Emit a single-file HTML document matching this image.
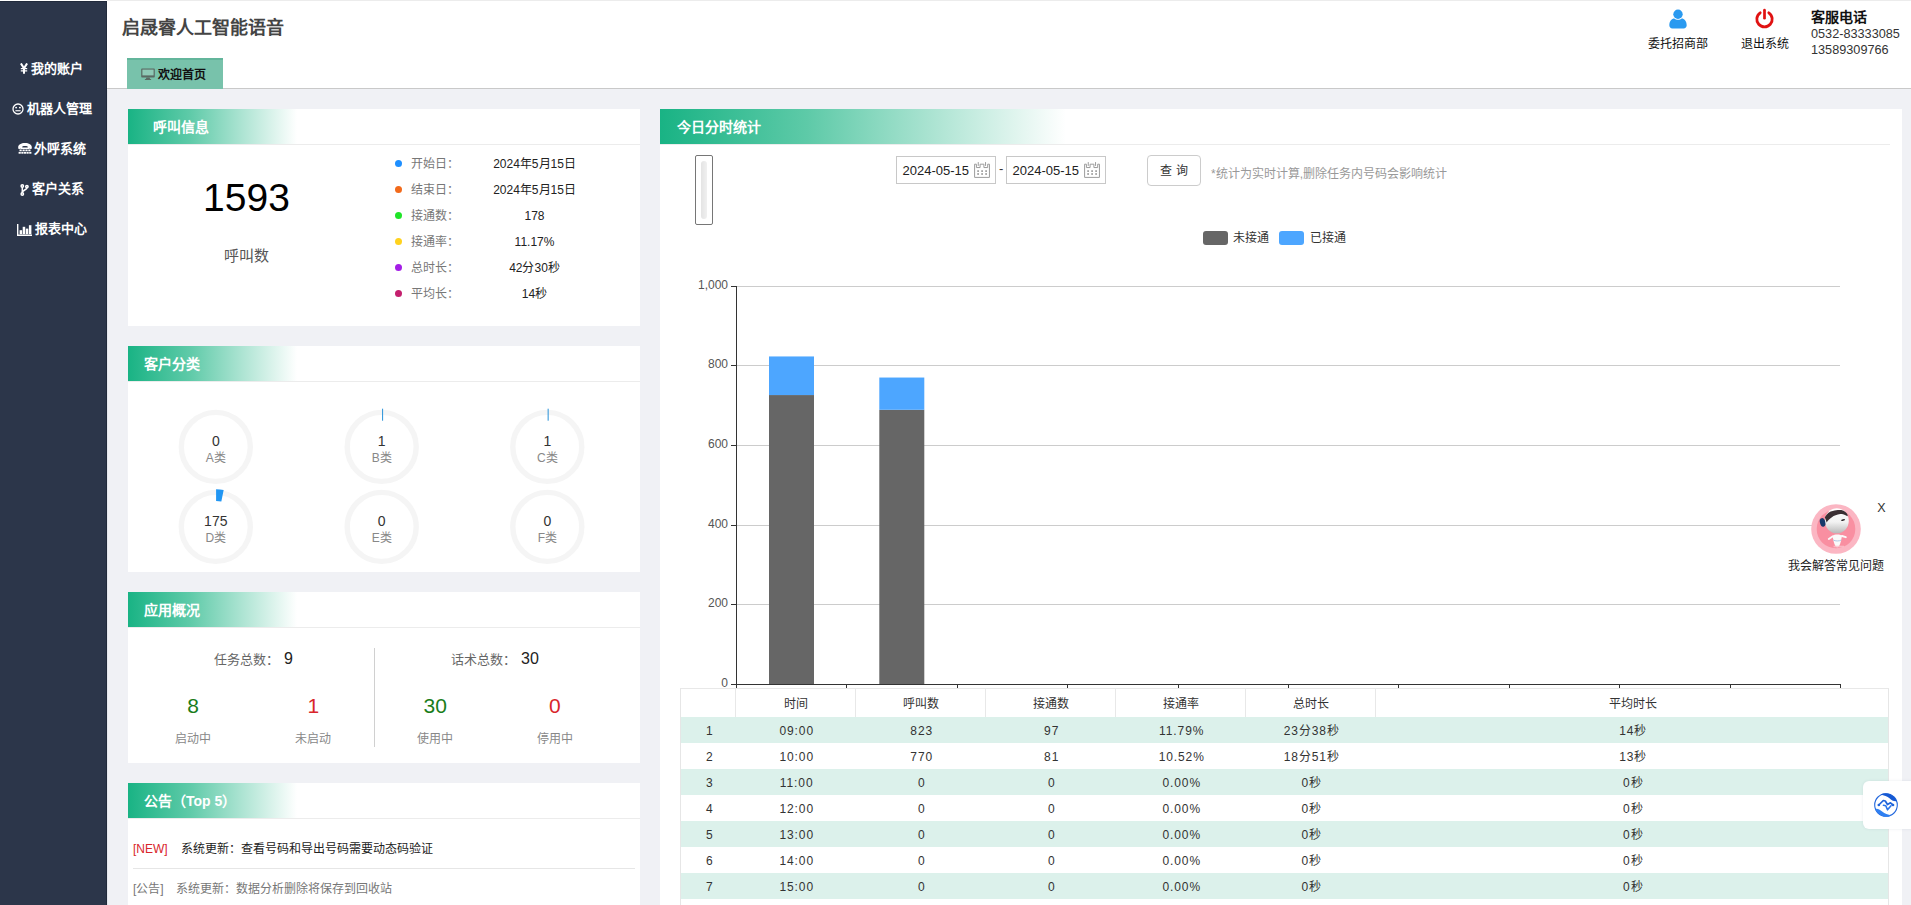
<!DOCTYPE html>
<html lang="zh-CN">
<head>
<meta charset="utf-8">
<title>启晟睿人工智能语音</title>
<style>
*{box-sizing:border-box;margin:0;padding:0}
html,body{width:1911px;height:905px;overflow:hidden;background:#f0f1f5;font-family:"Liberation Sans",sans-serif;font-size:12px;color:#333}
#page{position:absolute;left:0;top:0;width:1911px;height:905px;overflow:hidden;background:#f0f1f5}
.abs{position:absolute}
#side{position:absolute;left:0;top:1px;width:107px;height:904px;background:#2c364a;border-top:1px solid #212a3b;border-right:1px solid #212a3b;box-shadow:0 -1px 0 #fff}
#side .it{position:absolute;left:0;width:103.5px;height:20px;line-height:20px;text-align:center;color:#fff;font-weight:bold;font-size:13px;white-space:nowrap}
#side .it svg{vertical-align:-2px;margin-right:3px}
#top{position:absolute;left:107px;top:0;width:1804px;height:89px;background:#fff;border-bottom:1px solid #c9c9c9;border-top:1px solid #ececec}
#title{position:absolute;left:15px;top:14px;font-size:18px;font-weight:bold;color:#444;line-height:26px;white-space:nowrap}
#tab{position:absolute;left:20px;top:57px;width:96px;height:31px;background:#78c2ab;border-top:2px solid #63b59b;font-size:12px;font-weight:bold;color:#111;line-height:31px;white-space:nowrap}
.panel{position:absolute;background:#fff}
.ph{position:absolute;left:0;top:0;height:36px;border-bottom:1px solid #ececec;background:linear-gradient(to right,#19b384 0%,#5ecaa8 12%,#fff 33%);color:#fff;font-weight:bold;font-size:14px;line-height:37px;white-space:nowrap}
.t{position:absolute;white-space:nowrap;line-height:16px}
.c{transform:translateX(-50%)}
.td{color:#333;font-size:12px;letter-spacing:0.9px;margin-left:1.7px;margin-top:1px}
</style>
</head>
<body>
<div id="page">
<div id="side">
  <div class="it" style="top:57px"><svg width="8" height="11" viewBox="0 0 8 11" style="position:relative;top:-1px"><path d="M0.9 0.4L4 5.4L7.1 0.4M4 5V10.8" fill="none" stroke="#fff" stroke-width="2"/><path d="M0.8 5.6H7.2M0.8 7.9H7.2" stroke="#fff" stroke-width="1.2"/></svg>我的账户</div>
  <div class="it" style="top:97px"><svg width="12" height="12" viewBox="0 0 12 12"><circle cx="6" cy="6" r="5" fill="none" stroke="#fff" stroke-width="1.3"/><circle cx="4.1" cy="4.6" r="0.95" fill="#fff"/><circle cx="7.9" cy="4.6" r="0.95" fill="#fff"/><rect x="3.4" y="7.2" width="5.2" height="1.1" fill="#fff"/></svg>机器人管理</div>
  <div class="it" style="top:137px"><svg width="14" height="11" viewBox="0 0 14 11" style="position:relative;top:-1px;left:1px"><path d="M0.2 4.3C0.2 1.7 3 .1 7 .1S13.800 1.7 13.800 4.3V5.200C13.800 5.800 13.300 6.100 12.800 6L10.400 5.600C10 5.500 9.700 5.200 9.700 4.800V3.500C8.800 3.200 8 3.100 7 3.100S5.200 3.200 4.300 3.500V4.800C4.300 5.200 4 5.500 3.600 5.600L1.200 6C.7 6.100 .2 5.800 .2 5.200Z" fill="#fff"/><g fill="#fff"><rect x="2.900" y="4.500" width="8.200" height="1.500"/><rect x="1.500" y="6.500" width="2.200" height="1.700"/><rect x="4.500" y="6.500" width="2.200" height="1.700"/><rect x="7.400" y="6.500" width="2.200" height="1.700"/><rect x="10.300" y="6.500" width="2.200" height="1.700"/><rect x="0.600" y="8.900" width="2.200" height="1.800"/><rect x="3.300" y="8.900" width="2.200" height="1.800"/><rect x="5.900" y="8.900" width="2.200" height="1.800"/><rect x="8.500" y="8.900" width="2.200" height="1.800"/><rect x="11.200" y="8.900" width="2.200" height="1.800"/></g></svg>外呼系统</div>
  <div class="it" style="top:177px"><svg width="9" height="12" viewBox="0 0 9 12" style="position:relative;top:0.500px;left:0.500px"><g fill="none" stroke="#fff" stroke-width="1.500"><circle cx="2.300" cy="2" r="1.200"/><circle cx="2.300" cy="10" r="1.200"/><circle cx="6.900" cy="2.600" r="1.200"/><path d="M2.300 3.200V8.800"/><path d="M6.900 3.800C6.900 6.200 2.300 5.800 2.300 8.500" stroke-width="1.700"/></g></svg>客户关系</div>
  <div class="it" style="top:217px"><svg width="15" height="12" viewBox="0 0 15 12" style="position:relative;top:0.500px"><path d="M0.700 0V11.200H15" fill="none" stroke="#fff" stroke-width="1.400"/><g fill="#fff"><rect x="2.600" y="6.200" width="2.500" height="4"/><rect x="5.700" y="2.800" width="2.500" height="7.400"/><rect x="8.800" y="4.600" width="2.500" height="5.600"/><rect x="11.900" y="1.200" width="2.500" height="9"/></g></svg>报表中心</div>
</div>
<div id="top">
  
  <svg class="abs" style="left:1562px;top:7.6px" width="18" height="20" viewBox="0 0 18 20"><circle cx="9" cy="5.2" r="4.7" fill="#2a9af0"/><path d="M0.3 16.2C0.3 11.6 3 9.4 5.2 9.4C6.2 10.3 7.5 10.8 9 10.8S11.8 10.3 12.8 9.4C15 9.4 17.7 11.6 17.7 16.2C17.7 18.2 16.4 19.4 14.6 19.4H3.4C1.6 19.4 0.3 18.2 0.3 16.2Z" fill="#2a9af0"/></svg>
  <div class="t c" style="left:1571.2px;top:34.5px;color:#111">委托招商部</div>
  <svg class="abs" style="left:1646.9px;top:6.8px" width="21" height="22" viewBox="0 0 21 22"><path d="M6.2 4.8A7.7 7.7 0 1 0 14.8 4.8" fill="none" stroke="#e01212" stroke-width="2.8" stroke-linecap="round"/><path d="M10.5 2.2V10.2" stroke="#e01212" stroke-width="2.7" stroke-linecap="round"/></svg>
  <div class="t c" style="left:1658px;top:34.5px;color:#111">退出系统</div>
  <div class="t" style="left:1704px;top:6.7px;font-size:14px;font-weight:bold;color:#111;line-height:18px">客服电话</div>
  <div class="t" style="left:1704px;top:25px;font-size:12.7px;color:#333">0532-83333085</div>
  <div class="t" style="left:1704px;top:40.5px;font-size:12.7px;color:#333">13589309766</div>
  <div id="title">启晟睿人工智能语音</div>
  <div id="tab"><svg class="abs" style="left:14px;top:8px" width="14" height="13" viewBox="0 0 14 13"><path d="M1 0.5h12a0.8 0.8 0 0 1 .8.8v7.4a0.8 0.8 0 0 1-.8.8H1a0.8 0.8 0 0 1-.8-.8V1.3A0.8 0.8 0 0 1 1 .5Z" fill="#5a6a64"/><rect x="1.4" y="1.6" width="11.2" height="5.8" fill="#8fcab7"/><path d="M5.4 9.5h3.2l.5 1.6h1v1H3.9v-1h1z" fill="#5a6a64"/></svg><span style="margin-left:31px">欢迎首页</span></div>
</div>

<div class="abs" style="left:107px;top:90px;width:1px;height:815px;background:#e4e6ed"></div>
<!-- panel 1 -->
<div class="panel" style="left:128px;top:109px;width:512px;height:217px">
  <div class="ph" style="width:512px;padding-left:25px">呼叫信息</div>
  <div class="t c" style="left:118.5px;top:67px;font-size:39px;line-height:44px;color:#000">1593</div>
  <div class="t c" style="left:118px;top:137.7px;font-size:15px;line-height:18px;color:#555">呼叫数</div>
  <div class="abs" style="left:267px;top:51.0px;width:7px;height:7px;border-radius:50%;background:#1e8fff"></div><div class="t" style="left:283px;top:46.5px;color:#777">开始日：</div><div class="t c" style="left:406.5px;top:46.5px;color:#222">2024年5月15日</div>
  <div class="abs" style="left:267px;top:77.0px;width:7px;height:7px;border-radius:50%;background:#f26a1b"></div><div class="t" style="left:283px;top:72.5px;color:#777">结束日：</div><div class="t c" style="left:406.5px;top:72.5px;color:#222">2024年5月15日</div>
  <div class="abs" style="left:267px;top:103.0px;width:7px;height:7px;border-radius:50%;background:#1fe428"></div><div class="t" style="left:283px;top:98.5px;color:#777">接通数：</div><div class="t c" style="left:406.5px;top:98.5px;color:#222">178</div>
  <div class="abs" style="left:267px;top:129.0px;width:7px;height:7px;border-radius:50%;background:#ffd21e"></div><div class="t" style="left:283px;top:124.5px;color:#777">接通率：</div><div class="t c" style="left:406.5px;top:124.5px;color:#222">11.17%</div>
  <div class="abs" style="left:267px;top:155.0px;width:7px;height:7px;border-radius:50%;background:#a41ee6"></div><div class="t" style="left:283px;top:150.5px;color:#777">总时长：</div><div class="t c" style="left:406.5px;top:150.5px;color:#222">42分30秒</div>
  <div class="abs" style="left:267px;top:181.0px;width:7px;height:7px;border-radius:50%;background:#c41f6e"></div><div class="t" style="left:283px;top:176.5px;color:#777">平均长：</div><div class="t c" style="left:406.5px;top:176.5px;color:#222">14秒</div>
</div>
<!-- panel 2 -->
<div class="panel" style="left:128px;top:346px;width:512px;height:226px">
  <div class="ph" style="width:512px;padding-left:16px">客户分类</div>
  <svg class="abs" style="left:0;top:0" width="512" height="226" viewBox="128 346 512 226">
    <circle cx="215.8" cy="446.9" r="34.5" fill="none" stroke="#f5f5f5" stroke-width="5.4"/>
    <circle cx="381.7" cy="446.9" r="34.5" fill="none" stroke="#f5f5f5" stroke-width="5.4"/>
    <rect x="382.0" y="408.7" width="1.1" height="12" fill="#3a9bdc"/>
    <circle cx="547.3" cy="446.9" r="34.5" fill="none" stroke="#f5f5f5" stroke-width="5.4"/>
    <rect x="547.5999999999999" y="408.7" width="1.1" height="12" fill="#3a9bdc"/>
    <circle cx="215.8" cy="526.9" r="34.5" fill="none" stroke="#f5f5f5" stroke-width="5.4"/>
    <path d="M216.10 489.30 A37.6 37.6 0 0 1 223.66 490.07 L221.33 501.43 A26 26 0 0 0 216.10 500.90Z" fill="#2196f3"/>
    <circle cx="381.7" cy="526.9" r="34.5" fill="none" stroke="#f5f5f5" stroke-width="5.4"/>
    <circle cx="547.3" cy="526.9" r="34.5" fill="none" stroke="#f5f5f5" stroke-width="5.4"/>
  </svg>
  <div class="t c" style="left:87.80000000000001px;top:87.39999999999998px;font-size:14px;color:#333">0</div><div class="t c" style="left:87.80000000000001px;top:103.89999999999998px;color:#888">A类</div>
  <div class="t c" style="left:253.7px;top:87.39999999999998px;font-size:14px;color:#333">1</div><div class="t c" style="left:253.7px;top:103.89999999999998px;color:#888">B类</div>
  <div class="t c" style="left:419.29999999999995px;top:87.39999999999998px;font-size:14px;color:#333">1</div><div class="t c" style="left:419.29999999999995px;top:103.89999999999998px;color:#888">C类</div>
  <div class="t c" style="left:87.80000000000001px;top:167.39999999999998px;font-size:14px;color:#333">175</div><div class="t c" style="left:87.80000000000001px;top:183.89999999999998px;color:#888">D类</div>
  <div class="t c" style="left:253.7px;top:167.39999999999998px;font-size:14px;color:#333">0</div><div class="t c" style="left:253.7px;top:183.89999999999998px;color:#888">E类</div>
  <div class="t c" style="left:419.29999999999995px;top:167.39999999999998px;font-size:14px;color:#333">0</div><div class="t c" style="left:419.29999999999995px;top:183.89999999999998px;color:#888">F类</div>
</div>
<!-- panel 3 -->
<div class="panel" style="left:128px;top:592px;width:512px;height:171px">
  <div class="ph" style="width:512px;padding-left:16px">应用概况</div>
  <div class="t" style="left:85.5px;top:59px;font-size:13px;line-height:18px;color:#666">任务总数：</div>
  <div class="t" style="left:156px;top:58px;font-size:16px;line-height:18px;color:#222">9</div>
  <div class="t" style="left:322.5px;top:59px;font-size:13px;line-height:18px;color:#666">话术总数：</div>
  <div class="t" style="left:393px;top:58px;font-size:16px;line-height:18px;color:#222">30</div>
  <div class="t c" style="left:65.19999999999999px;top:101.70000000000005px;font-size:21px;line-height:24px;color:#1a7d1a">8</div><div class="t c" style="left:65.19999999999999px;top:138.5px;color:#888">启动中</div>
  <div class="t c" style="left:185.3px;top:101.70000000000005px;font-size:21px;line-height:24px;color:#d9252b">1</div><div class="t c" style="left:185.3px;top:138.5px;color:#888">未启动</div>
  <div class="t c" style="left:307.2px;top:101.70000000000005px;font-size:21px;line-height:24px;color:#1a7d1a">30</div><div class="t c" style="left:307.2px;top:138.5px;color:#888">使用中</div>
  <div class="t c" style="left:426.79999999999995px;top:101.70000000000005px;font-size:21px;line-height:24px;color:#d9252b">0</div><div class="t c" style="left:426.79999999999995px;top:138.5px;color:#888">停用中</div>
  <div class="abs" style="left:246px;top:56px;width:1px;height:99px;background:#d0d0d0"></div>
</div>
<!-- panel 4 -->
<div class="panel" style="left:128px;top:783px;width:512px;height:140px">
  <div class="ph" style="width:512px;padding-left:16px">公告（Top 5）</div>
  <div class="t" style="left:5px;top:57.5px;color:#d9252b">[NEW]</div><div class="t" style="left:52.5px;top:57.5px;color:#222">系统更新：查看号码和导出号码需要动态码验证</div>
  <div class="abs" style="left:5px;top:85px;width:502px;height:1px;background:#e6e6e6"></div>
  <div class="t" style="left:5px;top:97.5px;color:#777">[公告]</div><div class="t" style="left:48px;top:97.5px;color:#777">系统更新：数据分析删除将保存到回收站</div>
</div>
<!-- right panel -->
<div class="panel" id="rp" style="left:660px;top:109px;width:1242px;height:820px">
  <div class="ph" style="width:1230px;padding-left:17px">今日分时统计</div>
  <div class="abs" style="left:35px;top:46px;width:18px;height:70px;border:1px solid #767676;border-radius:2px;background:#fff"><div class="abs" style="left:5px;top:5px;width:6px;height:58px;border-radius:3px;background:linear-gradient(to right,#e4e4e4,#f0f0f0)"></div></div>
  <div class="abs" style="left:236px;top:47px;width:100px;height:28px;border:1px solid #c8c8c8;background:#fff"><div class="t" style="left:5.5px;top:5.5px;font-size:13px;color:#222">2024-05-15</div><svg class="abs" style="left:77px;top:5px" width="16" height="16" viewBox="0 0 16 16"><g fill="none" stroke="#9c9c9c" stroke-width="1"><path d="M0.6 2.2H2.4V5.55H6.1V2.2H9.9V5.55H13.7V2.2H15.45V15.4H0.6Z"/><path d="M4.25 0.1V3.9M11.55 0.1V3.9"/></g><g fill="#8e8e8e"><rect x="3.3" y="8.3" width="1.6" height="1.6"/><rect x="7.3" y="8.3" width="1.6" height="1.6"/><rect x="11.3" y="8.3" width="1.6" height="1.6"/><rect x="3.3" y="11.2" width="1.6" height="1.6"/><rect x="7.3" y="11.2" width="1.6" height="1.6"/><rect x="11.3" y="11.2" width="1.6" height="1.6"/></g></svg></div>
  <div class="abs" style="left:346px;top:47px;width:100px;height:28px;border:1px solid #c8c8c8;background:#fff"><div class="t" style="left:5.5px;top:5.5px;font-size:13px;color:#222">2024-05-15</div><svg class="abs" style="left:77px;top:5px" width="16" height="16" viewBox="0 0 16 16"><g fill="none" stroke="#9c9c9c" stroke-width="1"><path d="M0.6 2.2H2.4V5.55H6.1V2.2H9.9V5.55H13.7V2.2H15.45V15.4H0.6Z"/><path d="M4.25 0.1V3.9M11.55 0.1V3.9"/></g><g fill="#8e8e8e"><rect x="3.3" y="8.3" width="1.6" height="1.6"/><rect x="7.3" y="8.3" width="1.6" height="1.6"/><rect x="11.3" y="8.3" width="1.6" height="1.6"/><rect x="3.3" y="11.2" width="1.6" height="1.6"/><rect x="7.3" y="11.2" width="1.6" height="1.6"/><rect x="11.3" y="11.2" width="1.6" height="1.6"/></g></svg></div>
  <div class="t" style="left:339px;top:52px;font-size:13px;color:#333">-</div>
  <div class="abs" style="left:487px;top:46px;width:54px;height:31px;border:1px solid #ccc;border-radius:4px;background:#fff;text-align:center;line-height:30.5px;font-size:12px;color:#333;white-space:nowrap">查 询</div>
  <div class="t" style="left:551px;top:57px;color:#999">*统计为实时计算,删除任务内号码会影响统计</div>
  <div class="abs" style="left:543px;top:121.5px;width:25px;height:14px;border-radius:3px;background:#666"></div><div class="t" style="left:573px;top:120.8px;color:#333">未接通</div>
  <div class="abs" style="left:619px;top:121.5px;width:25px;height:14px;border-radius:3px;background:#4da6ff"></div><div class="t" style="left:649.5px;top:120.8px;color:#333">已接通</div>
  <svg class="abs" style="left:0;top:0" width="1242" height="600" viewBox="660 109 1242 600">
    <rect x="737" y="604" width="1103" height="1" fill="#cccccc"/>
    <rect x="737" y="525" width="1103" height="1" fill="#cccccc"/>
    <rect x="737" y="445" width="1103" height="1" fill="#cccccc"/>
    <rect x="737" y="365" width="1103" height="1" fill="#cccccc"/>
    <rect x="737" y="286" width="1103" height="1" fill="#cccccc"/>
    <rect x="731" y="684" width="5" height="1" fill="#333"/>
    <rect x="731" y="604" width="5" height="1" fill="#333"/>
    <rect x="731" y="525" width="5" height="1" fill="#333"/>
    <rect x="731" y="445" width="5" height="1" fill="#333"/>
    <rect x="731" y="365" width="5" height="1" fill="#333"/>
    <rect x="731" y="286" width="5" height="1" fill="#333"/>
    <rect x="769" y="395.05" width="45" height="288.95" fill="#666666"/>
    <rect x="769" y="356.45" width="45" height="38.61" fill="#4da6ff"/>
    <rect x="879.3" y="409.78" width="45" height="274.22" fill="#666666"/>
    <rect x="879.3" y="377.54" width="45" height="32.24" fill="#4da6ff"/>
    <rect x="736" y="286" width="1" height="399" fill="#333"/>
    <rect x="736" y="684" width="1105" height="1" fill="#333"/>
    <rect x="736" y="685" width="1" height="4" fill="#333"/>
    <rect x="846" y="685" width="1" height="4" fill="#333"/>
    <rect x="957" y="685" width="1" height="4" fill="#333"/>
    <rect x="1067" y="685" width="1" height="4" fill="#333"/>
    <rect x="1178" y="685" width="1" height="4" fill="#333"/>
    <rect x="1288" y="685" width="1" height="4" fill="#333"/>
    <rect x="1398" y="685" width="1" height="4" fill="#333"/>
    <rect x="1509" y="685" width="1" height="4" fill="#333"/>
    <rect x="1619" y="685" width="1" height="4" fill="#333"/>
    <rect x="1730" y="685" width="1" height="4" fill="#333"/>
    <rect x="1840" y="685" width="1" height="4" fill="#333"/>
  </svg>
  <div class="t" style="right:1174px;top:565.5px;color:#555;font-size:12px">0</div>
  <div class="t" style="right:1174px;top:485.5px;color:#555;font-size:12px">200</div>
  <div class="t" style="right:1174px;top:406.5px;color:#555;font-size:12px">400</div>
  <div class="t" style="right:1174px;top:326.5px;color:#555;font-size:12px">600</div>
  <div class="t" style="right:1174px;top:246.5px;color:#555;font-size:12px">800</div>
  <div class="t" style="right:1174px;top:167.5px;color:#555;font-size:12px">1,000</div>
  <div class="abs" style="left:20px;top:579px;width:1209px;height:240px;background:#fff;border-top:1px solid #e8e8e8;border-left:1px solid #e6e6e6;border-right:1px solid #e6e6e6"></div>
  <div class="abs" style="left:75px;top:580px;width:1px;height:28px;background:#e8e8e8"></div><div class="t c" style="left:136.2px;top:586.7px;color:#333">时间</div>
  <div class="abs" style="left:195px;top:580px;width:1px;height:28px;background:#e8e8e8"></div><div class="t c" style="left:261.2px;top:586.7px;color:#333">呼叫数</div>
  <div class="abs" style="left:325px;top:580px;width:1px;height:28px;background:#e8e8e8"></div><div class="t c" style="left:391.2px;top:586.7px;color:#333">接通数</div>
  <div class="abs" style="left:455px;top:580px;width:1px;height:28px;background:#e8e8e8"></div><div class="t c" style="left:521.2px;top:586.7px;color:#333">接通率</div>
  <div class="abs" style="left:585px;top:580px;width:1px;height:28px;background:#e8e8e8"></div><div class="t c" style="left:651.2px;top:586.7px;color:#333">总时长</div>
  <div class="abs" style="left:715px;top:580px;width:1px;height:28px;background:#e8e8e8"></div><div class="t c" style="left:972.7px;top:586.7px;color:#333">平均时长</div>
  <div class="abs tr" style="left:21px;top:608px;width:1207px;height:26px;background:#dcf1eb"><div class="t c td" style="left:27.0px;top:5px">1</div><div class="t c td" style="left:114.0px;top:5px">09:00</div><div class="t c td" style="left:239.0px;top:5px">823</div><div class="t c td" style="left:369.0px;top:5px">97</div><div class="t c td" style="left:499.0px;top:5px">11.79%</div><div class="t c td" style="left:629.0px;top:5px">23分38秒</div><div class="t c td" style="left:950.5px;top:5px">14秒</div></div>
  <div class="abs tr" style="left:21px;top:634px;width:1207px;height:26px;background:#fff"><div class="t c td" style="left:27.0px;top:5px">2</div><div class="t c td" style="left:114.0px;top:5px">10:00</div><div class="t c td" style="left:239.0px;top:5px">770</div><div class="t c td" style="left:369.0px;top:5px">81</div><div class="t c td" style="left:499.0px;top:5px">10.52%</div><div class="t c td" style="left:629.0px;top:5px">18分51秒</div><div class="t c td" style="left:950.5px;top:5px">13秒</div></div>
  <div class="abs tr" style="left:21px;top:660px;width:1207px;height:26px;background:#dcf1eb"><div class="t c td" style="left:27.0px;top:5px">3</div><div class="t c td" style="left:114.0px;top:5px">11:00</div><div class="t c td" style="left:239.0px;top:5px">0</div><div class="t c td" style="left:369.0px;top:5px">0</div><div class="t c td" style="left:499.0px;top:5px">0.00%</div><div class="t c td" style="left:629.0px;top:5px">0秒</div><div class="t c td" style="left:950.5px;top:5px">0秒</div></div>
  <div class="abs tr" style="left:21px;top:686px;width:1207px;height:26px;background:#fff"><div class="t c td" style="left:27.0px;top:5px">4</div><div class="t c td" style="left:114.0px;top:5px">12:00</div><div class="t c td" style="left:239.0px;top:5px">0</div><div class="t c td" style="left:369.0px;top:5px">0</div><div class="t c td" style="left:499.0px;top:5px">0.00%</div><div class="t c td" style="left:629.0px;top:5px">0秒</div><div class="t c td" style="left:950.5px;top:5px">0秒</div></div>
  <div class="abs tr" style="left:21px;top:712px;width:1207px;height:26px;background:#dcf1eb"><div class="t c td" style="left:27.0px;top:5px">5</div><div class="t c td" style="left:114.0px;top:5px">13:00</div><div class="t c td" style="left:239.0px;top:5px">0</div><div class="t c td" style="left:369.0px;top:5px">0</div><div class="t c td" style="left:499.0px;top:5px">0.00%</div><div class="t c td" style="left:629.0px;top:5px">0秒</div><div class="t c td" style="left:950.5px;top:5px">0秒</div></div>
  <div class="abs tr" style="left:21px;top:738px;width:1207px;height:26px;background:#fff"><div class="t c td" style="left:27.0px;top:5px">6</div><div class="t c td" style="left:114.0px;top:5px">14:00</div><div class="t c td" style="left:239.0px;top:5px">0</div><div class="t c td" style="left:369.0px;top:5px">0</div><div class="t c td" style="left:499.0px;top:5px">0.00%</div><div class="t c td" style="left:629.0px;top:5px">0秒</div><div class="t c td" style="left:950.5px;top:5px">0秒</div></div>
  <div class="abs tr" style="left:21px;top:764px;width:1207px;height:26px;background:#dcf1eb"><div class="t c td" style="left:27.0px;top:5px">7</div><div class="t c td" style="left:114.0px;top:5px">15:00</div><div class="t c td" style="left:239.0px;top:5px">0</div><div class="t c td" style="left:369.0px;top:5px">0</div><div class="t c td" style="left:499.0px;top:5px">0.00%</div><div class="t c td" style="left:629.0px;top:5px">0秒</div><div class="t c td" style="left:950.5px;top:5px">0秒</div></div>
  <div class="abs tr" style="left:21px;top:790px;width:1207px;height:26px;background:#fff"><div class="t c td" style="left:27.0px;top:5px">8</div><div class="t c td" style="left:114.0px;top:5px">16:00</div><div class="t c td" style="left:239.0px;top:5px">0</div><div class="t c td" style="left:369.0px;top:5px">0</div><div class="t c td" style="left:499.0px;top:5px">0.00%</div><div class="t c td" style="left:629.0px;top:5px">0秒</div><div class="t c td" style="left:950.5px;top:5px">0秒</div></div>
</div>

<!-- chatbot -->
<svg class="abs" style="left:1811px;top:504px" width="50" height="50" viewBox="0 0 50 50">
  <defs><linearGradient id="hd" x1="0" y1="0" x2="0" y2="1"><stop offset="0" stop-color="#ffffff"/><stop offset=".55" stop-color="#f2f2f2"/><stop offset="1" stop-color="#b9b9b9"/></linearGradient></defs>
  <circle cx="25" cy="25" r="24.800" fill="#fbb6c3"/>
  <circle cx="25" cy="25" r="19.300" fill="#f98fa1"/>
  <ellipse cx="25.800" cy="16.800" rx="12" ry="12.500" fill="url(#hd)"/>
  <path d="M13.800 13.200C16 9.500 19 7.500 21.800 7.100C25 6 28 5.800 30.300 6.100C33.500 6.800 36 9 36.800 11.300L36.400 12.200C34 10.500 31.500 9.900 29.300 9.900C26 10.300 23 11.500 20.900 13.200C18.500 14.800 16.800 16.500 15.700 18.400Z" fill="#3a2f33"/>
  <ellipse cx="11.600" cy="18.400" rx="2.700" ry="4.400" fill="#17386a" transform="rotate(-14 11.600 18.400)"/>
  <ellipse cx="32.100" cy="16" rx="2" ry=".85" fill="#2a2528" transform="rotate(-14 32.100 16)"/>
  <path d="M21.500 31.500C23.500 30 29 30 31 31.500L30 37C29 40.500 28 43.300 26.300 43.300S23.500 40.500 22.500 37Z" fill="#fafafa"/>
  <path d="M21.500 32.500L17.800 35M31 32L34.800 33.200" stroke="#fafafa" stroke-width="1.900" stroke-linecap="round"/>
  <path d="M22.300 36C24 37.300 28.500 37.300 30.300 36" stroke="#8cb4de" stroke-width=".7" fill="none"/>
  <path d="M22.500 42.500H33" stroke="#fbc2cc" stroke-width="1.600" opacity=".8"/>
</svg>
<div class="t c" style="left:1881.400px;top:499.500px;color:#333;font-size:12.500px">X</div>
<div class="t c" style="left:1836px;top:558px;color:#222">我会解答常见问题</div>
<!-- floating widget -->
<div class="abs" style="left:1863px;top:781px;width:60px;height:48px;background:#fff;border-radius:6px;box-shadow:0 0 3px rgba(90,100,130,.12)"></div>
<svg class="abs" style="left:1874px;top:793px" width="24" height="24" viewBox="0 0 24 24">
  <circle cx="12" cy="12" r="11.300" fill="#fff" stroke="#2468dd" stroke-width="1.100"/>
  <path d="M6.600 1.400A11.700 11.700 0 0 1 22.700 8.200C20 8.700 17.500 7.200 15.500 5.200C13.500 3.400 10 2.200 6.600 1.400Z" fill="#1659d3"/>
  <path d="M6.600 1.400A11.700 11.700 0 0 1 22.700 8.200C20 8.700 17.500 7.200 15.500 5.200C13.500 3.400 10 2.200 6.600 1.400Z" fill="#2f80f2" transform="rotate(180 12 12)"/>
  <path d="M4.800 12L9.300 7.500L11.300 8L13.500 11.500L16.500 9.800L19 12" stroke="#1f63da" stroke-width="1.700" fill="none" stroke-linejoin="round" stroke-linecap="round"/>
  <path d="M9.500 12.300L11.800 12.800L13.500 16.800L17 12.800" stroke="#2a74ea" stroke-width="1.600" fill="none" stroke-linejoin="round" stroke-linecap="round"/>
  <circle cx="4.800" cy="12" r="1.300" fill="#1f63da"/><circle cx="19" cy="12" r="1.300" fill="#1f63da"/>
</svg>
</div>
</body>
</html>
